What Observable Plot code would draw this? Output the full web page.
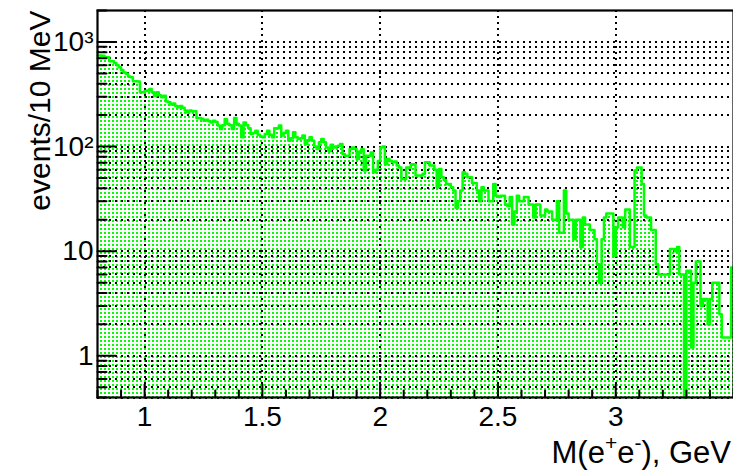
<!DOCTYPE html>
<html><head><meta charset="utf-8">
<script src="https://cdn.jsdelivr.net/npm/d3@7"></script>
<script src="https://cdn.jsdelivr.net/npm/@observablehq/plot@0.6"></script>
<style>
html,body{margin:0;padding:0;background:#fff;}
#chart svg{display:block;}
</style>
</head><body><div id="chart"></div>
<script>
// Histogram: M(e+e-) in 10 MeV bins starting at 0.80 GeV
const binStart = 0.8;
const binWidth = 0.01;
const counts = [
  743, 743, 740, 716, 716, 655, 655, 630, 600, 574,
  540, 510, 496, 467, 460, 421, 421, 420, 330, 330,
  340, 344, 356, 330, 307, 330, 310, 297, 307, 270,
  265, 252, 258, 245, 238, 245, 235, 221, 213, 221,
  218, 218, 188, 188, 185, 177, 181, 175, 170, 177,
  172, 159, 147, 160, 184, 165, 160, 147, 188, 165,
  159, 123, 170, 160, 150, 132, 135, 142, 130, 125,
  123, 132, 142, 130, 123, 150, 150, 159, 128, 135,
  142, 114, 120, 137, 123, 118, 120, 128, 106, 115,
  123, 114, 100, 95, 110, 118, 110, 98, 91, 104,
  98, 100, 102, 106, 85, 82, 82, 95, 98, 95,
  76, 90, 95, 59, 82, 82, 88, 57, 60, 73,
  98, 100, 68, 76, 73, 71, 72, 66, 63, 49,
  49, 63, 63, 68, 68, 53, 53, 53, 55, 71,
  71, 66, 66, 60, 41, 61, 51, 48, 44, 44,
  41, 38, 26, 30, 38, 57, 55, 51, 51, 45,
  45, 38, 30, 41, 38, 38, 30, 30, 44, 34,
  33, 34, 34, 28, 27, 33, 18, 24, 34, 30,
  30, 33, 33, 28, 28, 21, 28, 28, 22, 22,
  25, 24, 24, 20, 20, 30, 15, 15, 38, 23,
  20, 20, 13, 20, 20, 11, 21, 18, 18, 16,
  16, 13, 7.5, 5, 13, 21, 23, 23, 23, 9,
  17, 21, 21, 17, 25, 25, 11, 11, 59, 63,
  63, 44, 22, 21, 21, 16, 16, 7.5, 6, 6,
  6, 6, 6, 10.5, 10.5, 10, 11, 6, 6, 0,
  6.5, 6.5, 1.2, 5, 8, 8, 3, 3.5, 3.5, 2,
  3.5, 5, 5, 5, 2.5, 1.5, 1.5, 1.5, 1.5, 7
];
const xDomain = [0.8, 3.5];
const yDomain = [0.4, 2000];
const xTicks = [1, 1.5, 2, 2.5, 3];
const xTickLabels = ["1", "1.5", "2", "2.5", "3"];
const yTicks = [1, 10, 100, 1000];
const yTickLabels = ["1", "10", "10²", "10³"];
const yTitle = "events/10 MeV";
const xTitleParts = [["M(e", false], ["+", true], ["e", false], ["-", true], ["), GeV", false]];

const green = "#00ff00";

// table built from the arrays (bin left edges + closing right edge)
const hist = counts.map((v, i) => ({x: binStart + i * binWidth, v}));
hist.push({x: binStart + counts.length * binWidth, v: counts[counts.length - 1]});
const yOf = d => Math.max(d.v, yDomain[0]);

// minor tick positions
const xMinor = d3.range(Math.round(xDomain[0] * 10), Math.round(xDomain[1] * 10) + 1).map(i => i / 10).filter(v => !xTicks.some(t => Math.abs(t - v) < 1e-9));
const yMinor = [];
[0.1, 1, 10, 100, 1000].forEach(dec => { for (let m = 2; m <= 9; m++) { const v = m * dec; if (v >= yDomain[0] - 1e-9 && v <= yDomain[1] + 1e-9) yMinor.push(v); } });
const yGrid = yTicks.concat(yMinor).filter(v => v < yDomain[1] * 0.99);

const tickShape = {draw(ctx, l) { ctx.moveTo(0, 0); ctx.lineTo(0, -l); }};
const dotStyle = {stroke: "black", strokeWidth: 2, strokeDasharray: "2,4", shapeRendering: "crispEdges"};

const defsMark = () => {
  const defs = d3.create("svg:defs");
  const p = defs.append("pattern").attr("id", "greendots").attr("patternUnits", "userSpaceOnUse")
    .attr("width", 4).attr("height", 4);
  p.append("rect").attr("x", 0).attr("y", 0).attr("width", 2).attr("height", 2)
    .attr("fill", green).attr("shape-rendering", "crispEdges");
  return defs.node();
};

const xTitleMark = (index, scales, values, dims) => {
  const t = d3.create("svg:text")
    .attr("x", dims.width - 2).attr("y", 463)
    .attr("text-anchor", "end").attr("font-size", 31).attr("fill", "black");
  let up = false;
  xTitleParts.forEach(([s, sup]) => {
    const ts = t.append("tspan").text(s);
    if (sup && !up) { ts.attr("dy", -13).attr("font-size", 21); up = true; }
    else if (sup) { ts.attr("font-size", 21); }
    else if (up) { ts.attr("dy", 13); up = false; }
  });
  return t.node();
};

const chart = Plot.plot({
  width: 733,
  height: 471,
  marginLeft: 97,
  marginRight: 0,
  marginTop: 10,
  marginBottom: 74,
  style: {fontFamily: "'Liberation Sans', Arial, Helvetica, sans-serif", fontSize: "28px", background: "white", color: "black"},
  x: {domain: xDomain},
  y: {type: "log", domain: yDomain},
  marks: [
    defsMark,
    Plot.areaY(hist, {x: "x", y1: yDomain[0], y2: yOf, curve: "step-after", fill: "url(#greendots)"}),
    Plot.ruleX(xTicks, {x: d => d, ...dotStyle}),
    Plot.ruleY(yGrid, {y: d => d, ...dotStyle}),
    Plot.line(hist, {x: "x", y: yOf, curve: "step-after", stroke: green, strokeWidth: 2.5}),
    Plot.vector(yTicks, {y: d => d, frameAnchor: "left", length: 18, rotate: 90, anchor: "start", shape: tickShape, stroke: "black", strokeWidth: 2}),
    Plot.vector(yMinor, {y: d => d, frameAnchor: "left", length: 9, rotate: 90, anchor: "start", shape: tickShape, stroke: "black", strokeWidth: 2}),
    Plot.vector(xTicks, {x: d => d, frameAnchor: "bottom", length: 13, rotate: 0, anchor: "start", shape: tickShape, stroke: "black", strokeWidth: 2}),
    Plot.vector(xMinor, {x: d => d, frameAnchor: "bottom", length: 7, rotate: 0, anchor: "start", shape: tickShape, stroke: "black", strokeWidth: 2}),
    Plot.frame({stroke: "black", strokeWidth: 2.2}),
    Plot.axisX(xTicks, {tickSize: 0, tickPadding: 9, fontSize: 28, label: null, tickFormat: d => xTickLabels[xTicks.indexOf(d)]}),
    Plot.axisY(yTicks, {tickSize: 0, tickPadding: 4, fontSize: 28, label: null, tickFormat: d => yTickLabels[yTicks.indexOf(d)]}),
    Plot.text([yTitle], {text: d => d, frameAnchor: "top-left", rotate: -90, textAnchor: "end", dx: -69, fontSize: 30, fill: "black"}),
    xTitleMark
  ]
});
document.getElementById("chart").appendChild(chart);
</script>
</body></html>
